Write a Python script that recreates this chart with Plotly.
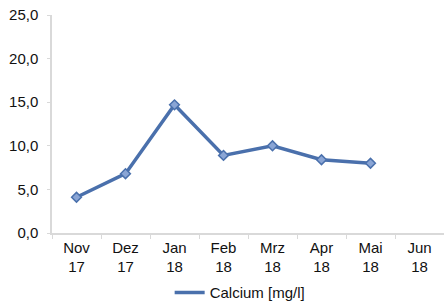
import plotly.graph_objects as go

months = ["Nov", "Dez", "Jan", "Feb", "Mrz", "Apr", "Mai", "Jun"]
years = ["17", "17", "18", "18", "18", "18", "18", "18"]
calcium = [4.1, 6.8, 14.7, 8.9, 10.0, 8.4, 8.0, None]
y_ticks = [0, 5, 10, 15, 20, 25]

labels = [f"{m}<br>{y}" for m, y in zip(months, years)]
line_color = "#4a70ac"

fig = go.Figure()
fig.add_trace(go.Scatter(
    x=labels, y=calcium, mode="lines", name="Calcium [mg/l]",
    line=dict(color=line_color, width=3.5),
))
fig.add_trace(go.Scatter(
    x=labels, y=calcium, mode="markers", showlegend=False,
    marker=dict(symbol="diamond", size=7.5, color="#8aa5d5",
                line=dict(color=line_color, width=1.5)),
))

font = dict(family="Liberation Sans, Arial, sans-serif", size=15, color="#111111")
fig.update_layout(
    width=444, height=305,
    margin=dict(l=52, r=0, t=15, b=72),
    paper_bgcolor="white", plot_bgcolor="white",
    separators=",.",
    font=font,
    showlegend=True,
    legend=dict(orientation="h", x=0.48, xref="paper", xanchor="center",
                y=0.04, yref="container", yanchor="middle",
                font=font, itemwidth=30, bgcolor="rgba(0,0,0,0)"),
    xaxis=dict(type="category", categoryorder="array", categoryarray=labels,
               range=[-0.5, 7.5], showgrid=False, showline=True,
               linecolor="#d9d9d9", linewidth=1.5, ticks="outside",
               tickson="boundaries", ticklen=4, tickcolor="#d9d9d9",
               tickfont=font, zeroline=False, automargin=False),
    yaxis=dict(range=[0, 25], tickvals=y_ticks, tickformat=".1f",
               showgrid=False, showline=True, linecolor="#d9d9d9", linewidth=1.5,
               ticks="outside", ticklen=3, tickcolor="#d9d9d9",
               ticklabelstandoff=6, tickfont=font, zeroline=False,
               automargin=False),
)

fig.write_html("out.html", config={"displayModeBar": False},
               post_script="document.body.style.margin='0';document.body.style.overflow='hidden';")
